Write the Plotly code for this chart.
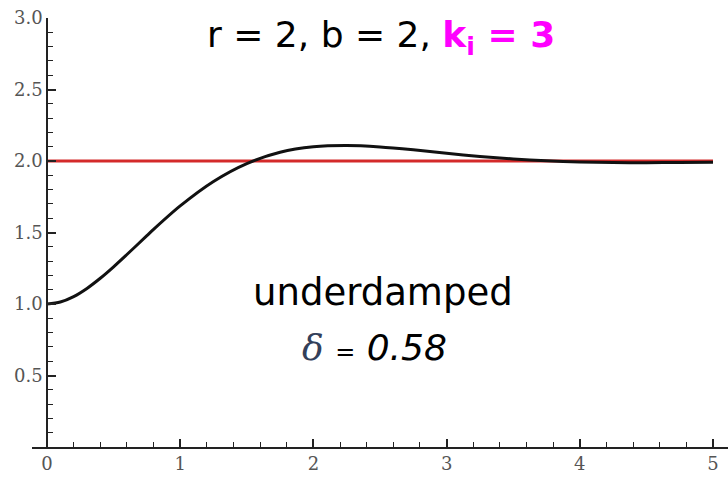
import plotly.graph_objects as go

# Step response samples y(t)
t_vals = [0.0, 0.1, 0.2, 0.3, 0.4, 0.5, 0.6, 0.75, 0.8, 1.0, 1.25, 1.5, 1.75, 2.0, 2.25, 2.5,
          2.75, 3.0, 3.25, 3.5, 3.75, 4.0, 4.25, 4.5, 4.75, 5.0]
y_vals = [1.0, 1.014, 1.052, 1.109, 1.180, 1.26, 1.346, 1.478, 1.522, 1.686, 1.857, 1.982,
          2.061, 2.099, 2.108, 2.098, 2.078, 2.054, 2.032, 2.014, 2.001, 1.993, 1.989, 1.988,
          1.990, 1.992]

# Set-point reference
ref_t = [0.0, 5.0]
ref_y = [2.0, 2.0]

x_ticks = [0, 1, 2, 3, 4, 5]
y_ticks = [0.5, 1.0, 1.5, 2.0, 2.5, 3.0]
y_tick_text = ["0.5", "1.0", "1.5", "2.0", "2.5", "3.0"]

fig = go.Figure()
fig.add_trace(go.Scatter(x=ref_t, y=ref_y, mode="lines",
                         line=dict(color="#d42a2a", width=3), hoverinfo="skip"))
fig.add_trace(go.Scatter(x=t_vals, y=y_vals, mode="lines", line_shape="spline",
                         line=dict(color="#111111", width=3, smoothing=0.8), hoverinfo="skip"))

W, H = 728, 477
ml, mr, mt, mb = 32, 0, 18, 30
x0_px = 47
px_per_unit = (713 - 47) / 5.0
x_lo = -(x0_px - ml) / px_per_unit
x_hi = x_lo + (W - ml - mr) / px_per_unit

tick_font = dict(family="DejaVu Serif", size=18, color="#555555")

fig.update_layout(
    width=W, height=H,
    margin=dict(l=ml, r=mr, t=mt, b=mb),
    paper_bgcolor="white", plot_bgcolor="white",
    showlegend=False,
    xaxis=dict(range=[x_lo, x_hi], showgrid=False, zeroline=False,
               showline=True, linecolor="#222222", linewidth=1.5,
               ticks="inside", ticklen=8, tickwidth=1.5, tickcolor="#222222",
               tickvals=x_ticks, tickfont=tick_font,
               minor=dict(dtick=0.2, tick0=0, ticks="inside", ticklen=5,
                          tickwidth=1.2, tickcolor="#222222")),
    yaxis=dict(range=[0, 3], showgrid=False, zeroline=False,
               anchor="free", position=(x0_px - ml) / (W - ml - mr),
               showline=True, linecolor="#222222", linewidth=1.5,
               ticks="inside", ticklen=8, tickwidth=1.5, tickcolor="#222222",
               tickvals=y_ticks, ticktext=y_tick_text, tickfont=tick_font,
               minor=dict(dtick=0.1, tick0=0, ticks="inside", ticklen=5,
                          tickwidth=1.2, tickcolor="#222222")),
)

fig.add_annotation(
    xref="paper", yref="paper", x=(381 - ml) / (W - ml), y=(H - mb - 38) / (H - mt - mb),
    text="r = 2, b = 2, <span style='color:#ff00ff'><b>k<sub>i</sub> = 3</b></span>",
    showarrow=False, font=dict(family="DejaVu Sans", size=36, color="black"),
    xanchor="center", yanchor="middle")

fig.add_annotation(
    xref="paper", yref="paper", x=(383 - ml) / (W - ml), y=(H - mb - 292) / (H - mt - mb),
    text="underdamped", showarrow=False,
    font=dict(family="DejaVu Sans", size=37, color="black"),
    xanchor="center", yanchor="middle")

fig.add_annotation(
    xref="paper", yref="paper", x=(374 - ml) / (W - ml), y=(H - mb - 347) / (H - mt - mb),
    text="<span style='font-family:DejaVu Serif;font-style:italic;color:#33405a'>δ</span>"
         " <span style='font-size:24px'>=</span> <i>0.58</i>",
    showarrow=False,
    font=dict(family="DejaVu Sans", size=36, color="black"),
    xanchor="center", yanchor="middle")

fig.write_html("out.html")
